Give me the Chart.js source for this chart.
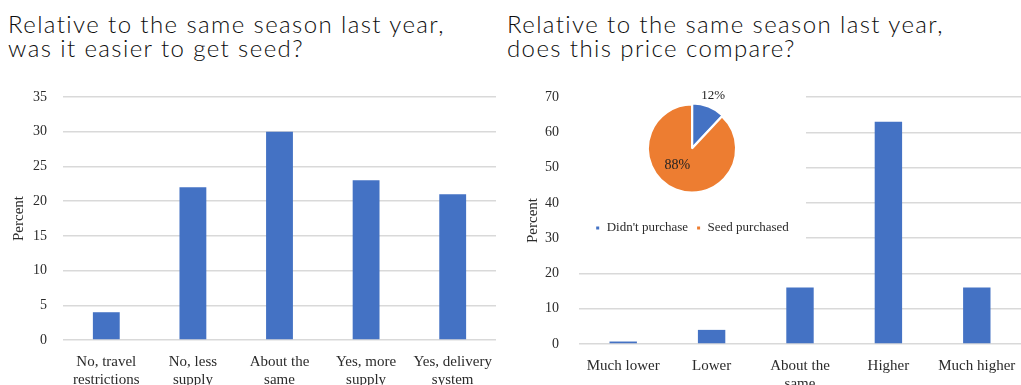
<!DOCTYPE html>
<html>
<head>
<meta charset="utf-8">
<script src="https://cdn.jsdelivr.net/npm/chart.js@4/dist/chart.umd.min.js"></script>
<style>
  body { margin: 0; width: 1021px; height: 385px; overflow: hidden; position: relative; background: #fff; }
  .titulo { position: absolute; top: 12px; font: 300 24px/24px Lato, sans-serif; letter-spacing: 1.4px; color: #0d0d0d; white-space: nowrap; }
  canvas { position: absolute; }
  #pieChart { background: #fff; }
</style>
</head>
<body>
<div class="titulo" style="left:8px">Relative to the same season last year,<br>was it easier to get seed?</div>
<div class="titulo" style="left:507px">Relative to the same season last year,<br>does this price compare?</div>

<canvas id="seedChart" width="500" height="300" style="left:0;top:85px"></canvas>
<canvas id="priceChart" width="511" height="300" style="left:510px;top:85px"></canvas>
<canvas id="pieChart" width="228" height="170" style="left:578px;top:80px"></canvas>

<script>
// easier to get seed? (percent)
const seedLabels = [["No, travel", "restrictions"], ["No, less", "supply"], ["About the", "same"], ["Yes, more", "supply"], ["Yes, delivery", "system"]];
const seedValues = [4, 22, 30, 23, 21];
const seedMax = 35, seedStep = 5;

// price vs last season (percent)
const priceLabels = ["Much lower", "Lower", ["About the", "same"], "Higher", "Much higher"];
const priceValues = [0.7, 4, 16, 63, 16];
const priceMax = 70, priceStep = 10;

// inset pie: bought seed or not
const pieLabels = ["Didn't purchase", "Seed purchased"];
const pieValues = [12, 88];

const azul = '#4472C4';
const laranja = '#ED7D31';
const textoCor = '#2b2b2b';
const gradeCor = '#d9d9d9';
const serif = "'Liberation Serif', 'Times New Roman', serif";

function barOptions(max, step, yWidth, xHeight, tickPad, titlePad, padRight) {
    return {
        responsive: false,
        animation: false,
        layout: { padding: { top: 12, right: padRight, left: 0, bottom: 0 } },
        plugins: { legend: { display: false }, tooltip: { enabled: false } },
        scales: {
            x: {
                grid: { display: false },
                border: { display: false },
                ticks: { color: textoCor, font: { family: serif, size: 15 }, padding: 5, maxRotation: 0, autoSkip: false },
                afterFit(scale) { scale.height = xHeight; scale.paddingLeft = 0; scale.paddingRight = 0; }
            },
            y: {
                min: 0,
                max: max,
                grid: { color: gradeCor, lineWidth: 1.5, drawTicks: false },
                border: { display: false },
                ticks: { stepSize: step, color: textoCor, font: { family: serif, size: 14 }, padding: tickPad },
                title: { display: true, text: 'Percent', color: textoCor, font: { family: serif, size: 15 }, padding: { top: titlePad, bottom: 0 } },
                afterFit(scale) { scale.width = yWidth; scale.paddingTop = 0; scale.paddingBottom = 0; }
            }
        }
    };
}

new Chart(document.getElementById('seedChart'), {
    type: 'bar',
    data: {
        labels: seedLabels,
        datasets: [{ data: seedValues, backgroundColor: azul, categoryPercentage: 1, barPercentage: 0.31 }]
    },
    options: barOptions(seedMax, seedStep, 63, 45, 16, 10, 4)
});

new Chart(document.getElementById('priceChart'), {
    type: 'bar',
    data: {
        labels: priceLabels,
        datasets: [{ data: priceValues, backgroundColor: azul, categoryPercentage: 1, barPercentage: 0.31 }]
    },
    options: barOptions(priceMax, priceStep, 69, 41, 20, 14, 0)
});

// percent labels on the pie slices (first one sits outside)
const fatorRaio = [1.3, 0.5];
const fonteRotulo = [13, 14];
const rotulosPizza = {
    id: 'rotulosPizza',
    afterDatasetsDraw(chart) {
        const ctx = chart.ctx;
        const meta = chart.getDatasetMeta(0);
        ctx.save();
        ctx.fillStyle = '#222';
        ctx.textAlign = 'center';
        ctx.textBaseline = 'middle';
        meta.data.forEach((arc, i) => {
            // a bit further round for the big slice so it sits left of centre
            const meio = (arc.startAngle + arc.endAngle) / 2 + (i === 1 ? 0.35 : 0);
            const r = arc.outerRadius * fatorRaio[i];
            ctx.font = fonteRotulo[i] + 'px ' + serif;
            ctx.fillText(pieValues[i] + '%', arc.x + Math.cos(meio) * r, arc.y + Math.sin(meio) * r);
        });
        ctx.restore();
    }
};

new Chart(document.getElementById('pieChart'), {
    type: 'pie',
    data: {
        labels: pieLabels,
        datasets: [{
            data: pieValues,
            backgroundColor: [azul, laranja],
            borderColor: '#fff',
            borderWidth: 2,
            offset: [3, 0]
        }]
    },
    options: {
        responsive: false,
        animation: false,
        radius: 44,
        layout: { padding: { top: 3.5, bottom: 5.5, left: 0, right: 0 } },
        plugins: {
            tooltip: { enabled: false },
            legend: {
                position: 'bottom',
                labels: {
                    usePointStyle: true,
                    pointStyle: 'rect',
                    boxWidth: 5,
                    boxHeight: 5,
                    padding: 8,
                    color: textoCor,
                    font: { family: serif, size: 13 }
                }
            }
        }
    },
    plugins: [rotulosPizza]
});
</script>
</body>
</html>
